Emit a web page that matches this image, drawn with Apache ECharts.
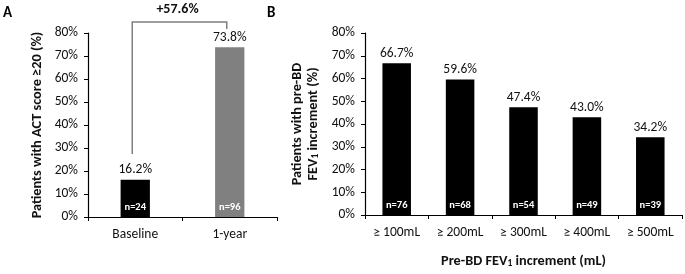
<!DOCTYPE html>
<html><head><meta charset="utf-8">
<script src="https://cdn.jsdelivr.net/npm/echarts@6/dist/echarts.min.js"></script>
<style>html,body{margin:0;padding:0;background:#fff}#c{width:685px;height:274px}</style>
</head><body><div id="c"></div>
<script>
const catsA = ['Baseline', '1-year'];
const valsA = [16.2, 73.8];
const nA = ['n=24', 'n=96'];
const colorsA = ['#000000', '#808080'];
const bracketA = {from: 27.4, top: 84.8, to: 81.7, text: '+57.6%'};

const catsB = ['≥ 100mL', '≥ 200mL', '≥ 300mL', '≥ 400mL', '≥ 500mL'];
const valsB = [66.7, 59.6, 47.4, 43.0, 34.2];
const nB = ['n=76', 'n=68', 'n=54', 'n=49', 'n=39'];

const yTicks = [0, 10, 20, 30, 40, 50, 60, 70, 80];

const FONT = "Carlito, 'Liberation Sans Narrow', Roboto, sans-serif";
const chart = echarts.init(document.getElementById('c'), null, {renderer: 'canvas'});

function yAxis(gi, nameObj, gap) {
  return {
    type: 'value', gridIndex: gi, min: yTicks[0], max: yTicks[yTicks.length - 1], interval: 10,
    axisLine: {show: true, lineStyle: {color: '#000', width: 1.2}},
    axisTick: {show: true, length: 4, lineStyle: {color: '#000'}}, splitLine: {show: false},
    axisLabel: {formatter: v => v + '%', color: '#111', fontSize: 13.5, fontFamily: FONT, margin: 10},
    name: nameObj.text, nameLocation: 'middle', nameGap: gap, nameRotate: 90,
    nameTextStyle: Object.assign({color: '#111', fontSize: 14.3, fontWeight: 'bold', fontFamily: FONT, lineHeight: 16}, nameObj.style || {})
  };
}
function xAxis(gi, cats, extra) {
  return Object.assign({
    type: 'category', gridIndex: gi, data: cats,
    axisLine: {show: true, lineStyle: {color: '#000', width: 1.2}},
    axisTick: {show: true, length: 4, lineStyle: {color: '#000'}},
    axisLabel: {color: '#111', fontSize: 13.5, fontFamily: FONT, margin: 11, interval: 0}
  }, extra || {});
}
function barSeries(xi, vals, colors) {
  return {
    type: 'bar', xAxisIndex: xi, yAxisIndex: xi, barWidth: xi === 0 ? '31%' : '45%',
    data: vals.map((v, i) => ({value: v, itemStyle: {color: colors[i % colors.length]}})),
    label: {show: true, position: 'top', distance: 3, formatter: p => p.value.toFixed(1) + '%',
      color: '#111', fontSize: 13.5, fontFamily: FONT}
  };
}
function nSeries(xi, vals, ns) {
  return {
    type: 'bar', xAxisIndex: xi, yAxisIndex: xi, barGap: '-100%', barWidth: xi === 0 ? '31%' : '45%',
    data: vals.map((v, i) => ({value: v, itemStyle: {color: 'rgba(0,0,0,0)'}})),
    label: {show: true, position: 'insideBottom', distance: 4, formatter: p => ns[p.dataIndex],
      color: '#fff', fontSize: 10.5, fontWeight: 'bold', fontFamily: FONT},
    silent: true, z: 3
  };
}
const richB = {
  b: {fontSize: 14.3, fontWeight: 'bold', fontFamily: FONT, color: '#111', lineHeight: 16},
  s: {fontSize: 9.5, fontWeight: 'bold', fontFamily: FONT, color: '#111', padding: [6, 0, 0, 0]}
};

chart.setOption({
  animation: false,
  textStyle: {fontFamily: FONT},
  grid: [
    {left: 88, right: 408, top: 33, bottom: 57},
    {left: 365, right: 3, top: 33, bottom: 57}
  ],
  xAxis: [
    xAxis(0, catsA),
    xAxis(1, catsB, {name: '{b|Pre-BD FEV}{s|1}{b| increment (mL)}', nameLocation: 'middle', nameGap: 38,
      nameTextStyle: {rich: richB}})
  ],
  yAxis: [
    yAxis(0, {text: 'Patients with ACT score ≥20 (%)'}, 43),
    yAxis(1, {text: '{b|Patients with pre-BD}\n{b|FEV}{s|1}{b| increment (%)}', style: {rich: richB}}, 44)
  ],
  graphic: [
    {type: 'text', left: 3, top: 6, style: {text: 'A', font: 'bold 15px ' + FONT, fill: '#000'}},
    {type: 'text', left: 267, top: 6, style: {text: 'B', font: 'bold 15px ' + FONT, fill: '#000'}}
  ],
  series: [
    barSeries(0, valsA, colorsA),
    nSeries(0, valsA, nA),
    barSeries(1, valsB, ['#000000']),
    nSeries(1, valsB, nB),
    {
      type: 'custom', xAxisIndex: 0, yAxisIndex: 0, clip: false, silent: true, z: 5,
      data: [[0, bracketA.from]],
      renderItem: function (params, api) {
        const p0 = api.coord([0, bracketA.from]);
        const p1 = api.coord([0, bracketA.top]);
        const p2 = api.coord([1, bracketA.top]);
        const p3 = api.coord([1, bracketA.to]);
        const xa = p0[0] - 3, xb = p2[0] - 3;
        return {type: 'group', children: [
          {type: 'polyline', shape: {points: [[xa, p0[1]], [xa, p1[1]], [xb, p2[1]], [xb, p3[1]]]},
            style: {stroke: '#7f7f7f', lineWidth: 1.5, fill: null}},
          {type: 'text', x: (xa + xb) / 2 - 2, y: p1[1] - 12.5,
            style: {text: bracketA.text, font: 'bold 14px ' + FONT, fill: '#111', align: 'center', verticalAlign: 'middle'}}
        ]};
      }
    }
  ]
});
</script></body></html>
